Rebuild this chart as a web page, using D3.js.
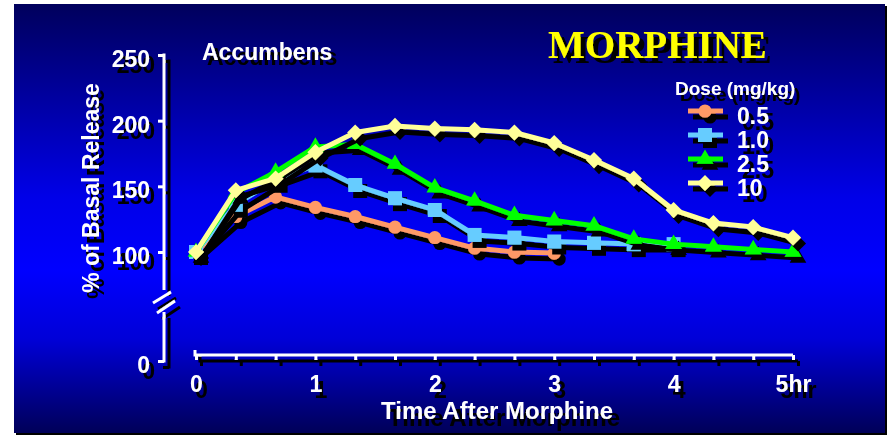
<!DOCTYPE html>
<html>
<head>
<meta charset="utf-8">
<script src="https://cdn.jsdelivr.net/npm/d3@7"></script>
<style>
  body { margin: 0; background: #fff; }
  text { font-family: Arial, "Liberation Sans", sans-serif; font-weight: bold; }
</style>
</head>
<body>
<svg id="chart" width="891" height="437"></svg>
<script>
// time after morphine, in hours (samples every 20 min)
var hours = [0, 1/3, 2/3, 1, 4/3, 5/3, 2, 7/3, 8/3, 3, 10/3, 11/3, 4, 13/3, 14/3, 5];

// % of basal release, one array per dose
var dose05 = [100, 127, 142, 134, 127, 119, 111, 103, 100, 99];
var dose10 = [100, 136, 155, 166, 151, 141, 132, 113, 111, 108, 107, 106, 106];
var dose25 = [100, 145, 161, 180, 182, 167, 149, 139, 128, 124, 120, 110, 106, 104, 102, 100];
var dose100 = [100, 147, 156, 176, 191, 196, 194, 193, 191, 183, 170, 156, 132, 122, 119, 111];

var doseLabels = ["0.5", "1.0", "2.5", "10"];
var yTicks = [0, 100, 150, 200, 250];
var xTicks = [0, 1/3, 2/3, 1, 4/3, 5/3, 2, 7/3, 8/3, 3, 10/3, 11/3, 4, 13/3, 14/3, 5];

var svg = d3.select("#chart");
var defs = svg.append("defs");

// background gradient
var grad = defs.append("linearGradient").attr("id", "bg")
    .attr("x1", 0).attr("y1", 0).attr("x2", 0).attr("y2", 1);
grad.append("stop").attr("offset", "0%").attr("stop-color", "#00005c");
grad.append("stop").attr("offset", "45%").attr("stop-color", "#0000e8");
grad.append("stop").attr("offset", "62%").attr("stop-color", "#0000ff");
grad.append("stop").attr("offset", "78%").attr("stop-color", "#0000d8");
grad.append("stop").attr("offset", "100%").attr("stop-color", "#000058");

// hard black drop shadows
function addShadow(id, dx, dy) {
    var f = defs.append("filter").attr("id", id)
        .attr("filterUnits", "userSpaceOnUse")
        .attr("x", 0).attr("y", 0).attr("width", 891).attr("height", 437);
    f.append("feOffset").attr("in", "SourceAlpha").attr("dx", dx).attr("dy", dy).attr("result", "off");
    var m = f.append("feMerge");
    m.append("feMergeNode").attr("in", "off");
    m.append("feMergeNode").attr("in", "SourceGraphic");
}
addShadow("sh", 5, 6);
addShadow("sh5", 5, 5);
addShadow("sh7", 7, 7);

svg.append("rect").attr("x", 16).attr("y", 6).attr("width", 871).attr("height", 429).attr("fill", "#000");
svg.append("rect").attr("x", 14).attr("y", 4).attr("width", 871).attr("height", 429).attr("fill", "url(#bg)");

// scales (y is broken between 0 and 100)
var x = d3.scaleLinear().domain([0, 5]).range([196, 793]);
var y = d3.scaleLinear().domain([0, 100, 250]).range([361, 252, 55]);
var axisX = 164, axisY = 355;

// axes
var axes = svg.append("g").attr("filter", "url(#sh)");
var yAx = d3.axisLeft(y).tickValues(yTicks).tickSize(6).tickPadding(8);
var ya = axes.append("g").attr("transform", "translate(" + axisX + ",0)").call(yAx);
ya.select(".domain").remove();
ya.selectAll("line").attr("stroke", "#fff").attr("stroke-width", 3);
ya.selectAll("text").attr("fill", "#fff").style("font-size", "23px").attr("dy", "0.5em");

axes.append("line").attr("x1", axisX).attr("x2", axisX).attr("y1", y(250) - 1.5).attr("y2", 290);
axes.append("line").attr("x1", axisX).attr("x2", axisX).attr("y1", 312).attr("y2", y(0) + 1.5);
axes.append("line").attr("x1", 153).attr("y1", 303).attr("x2", 171).attr("y2", 292);
axes.append("line").attr("x1", 157).attr("y1", 313).attr("x2", 175).attr("y2", 301);
axes.selectAll(":scope > line").attr("stroke", "#fff").attr("stroke-width", 3);

var xAx = d3.axisBottom(x).tickValues(xTicks).tickSize(5).tickSizeOuter(0)
    .tickFormat(function (d) {
        if (Math.abs(d - Math.round(d)) > 1e-6) return "";
        return d === 5 ? "5hr" : d3.format("d")(d);
    });
var xa = axes.append("g").attr("transform", "translate(0," + axisY + ")").call(xAx);
xa.select(".domain").attr("stroke", "#fff").attr("stroke-width", 3)
    .attr("d", "M" + (x(0) - 1) + ",-5V0H" + x(5));
xa.selectAll("line").attr("stroke", "#fff").attr("stroke-width", 3);
xa.selectAll("text").attr("fill", "#fff").style("font-size", "23px").attr("y", 21);

// titles
svg.append("g").attr("filter", "url(#sh)")
    .append("text").attr("transform", "translate(99,188) rotate(-90)")
    .attr("text-anchor", "middle").style("font-size", "23px")
    .attr("fill", "#fff").text("% of Basal Release");
svg.append("text").attr("x", 497).attr("y", 419)
    .attr("filter", "url(#sh7)")
    .attr("text-anchor", "middle").style("font-size", "24px")
    .attr("fill", "#fff").text("Time After Morphine");
svg.append("text").attr("x", 202).attr("y", 60).style("font-size", "23px")
    .attr("filter", "url(#sh5)")
    .attr("fill", "#fff").text("Accumbens");
svg.append("text").attr("x", 548).attr("y", 58)
    .attr("filter", "url(#sh5)")
    .style("font-family", "'Times New Roman', 'Liberation Serif', serif")
    .style("font-size", "39px")
    .attr("fill", "#ffff00").text("MORPHINE");
svg.append("text").attr("x", 675).attr("y", 95).style("font-size", "19px")
    .attr("filter", "url(#sh)")
    .attr("fill", "#fff").text("Dose (mg/kg)");

// series
var series = [
    { values: dose05, color: "#ff9966", symbol: d3.symbolCircle, size: 135, rot: 0 },
    { values: dose10, color: "#66ccff", symbol: d3.symbolSquare, size: 196, rot: 0 },
    { values: dose25, color: "#00ff00", symbol: d3.symbolTriangle, size: 120, rot: 0 },
    { values: dose100, color: "#ffff99", symbol: d3.symbolSquare, size: 130, rot: 45 }
];

var line = d3.line()
    .x(function (d) { return x(d[0]); })
    .y(function (d) { return y(d[1]); });

series.forEach(function (s) {
    var pts = s.values.map(function (v, i) { return [hours[i], v]; });
    var sym = d3.symbol().type(s.symbol).size(s.size);
    var g = svg.append("g").attr("filter", "url(#sh)");
    g.append("path").datum(pts).attr("d", line)
        .attr("fill", "none").attr("stroke", s.color).attr("stroke-width", 5)
        .attr("stroke-linejoin", "round");
    g.selectAll("path.m").data(pts).enter().append("path").attr("class", "m")
        .attr("d", sym)
        .attr("transform", function (d) {
            return "translate(" + x(d[0]) + "," + y(d[1]) + ") rotate(" + s.rot + ")";
        })
        .attr("fill", s.color);
});

// legend
var legY = d3.scalePoint().domain(doseLabels).range([111, 183]);
series.forEach(function (s, i) {
    var ly = legY(doseLabels[i]);
    var sym = d3.symbol().type(s.symbol).size(s.size);
    var g = svg.append("g").attr("filter", "url(#sh)");
    g.append("line").attr("x1", 688).attr("x2", 723).attr("y1", ly).attr("y2", ly)
        .attr("stroke", s.color).attr("stroke-width", 5);
    g.append("path").attr("d", sym)
        .attr("transform", "translate(705," + ly + ") rotate(" + s.rot + ")")
        .attr("fill", s.color);
    svg.append("text").attr("x", 737).attr("y", ly + 13).style("font-size", "23px")
        .attr("filter", "url(#sh)")
        .attr("fill", "#fff").text(doseLabels[i]);
});
</script>
</body>
</html>
